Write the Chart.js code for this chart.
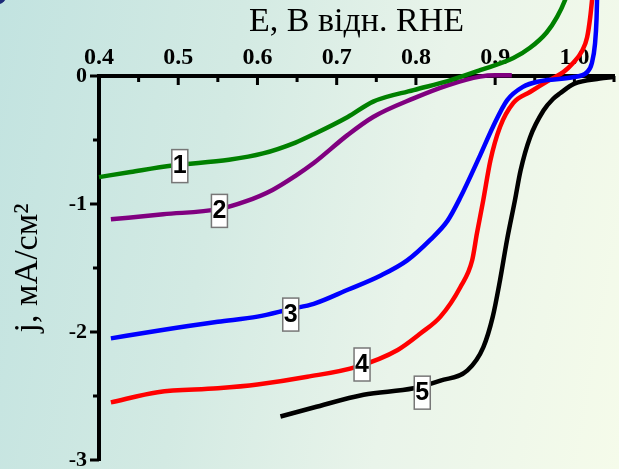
<!DOCTYPE html>
<html>
<head>
<meta charset="utf-8">
<script src="https://cdn.jsdelivr.net/npm/chart.js@4"></script>
<style>
  html, body { margin: 0; padding: 0; }
  #wrap {
    position: relative; width: 619px; height: 469px; overflow: hidden;
    background: linear-gradient(100deg, #c2e3e0 0%, #d3eae3 35%, #e9f4ea 65%, #f5fbea 100%);
  }
  #corner { position: absolute; left: -18px; top: -21px; width: 26px; height: 26px; border-radius: 50%; background: #1c2a78; }
  canvas { position: absolute; left: 0; top: 0; }
</style>
</head>
<body>
<div id="wrap"><div id="corner"></div><canvas id="chart" width="619" height="469"></canvas></div>
<script>
// potential E (V vs RHE) and current density j (mA/cm2) for each curve
const e1 = [0.400, 0.440, 0.493, 0.564, 0.607, 0.648, 0.671, 0.714, 0.746, 0.797, 0.840, 0.881, 0.923, 0.944, 0.965, 0.978, 0.988, 0.996];
const j1 = [-0.79, -0.75, -0.70, -0.655, -0.605, -0.52, -0.455, -0.32, -0.20, -0.11, -0.04, 0.045, 0.14, 0.22, 0.34, 0.46, 0.59, 0.75];

const e2 = [0.415, 0.481, 0.551, 0.585, 0.619, 0.648, 0.671, 0.714, 0.746, 0.797, 0.840, 0.881, 0.900, 0.921];
const j2 = [-1.12, -1.08, -1.04, -0.98, -0.89, -0.78, -0.68, -0.46, -0.32, -0.175, -0.073, -0.005, 0.005, 0.005];

const e3 = [0.415, 0.474, 0.550, 0.600, 0.642, 0.671, 0.714, 0.755, 0.789, 0.818, 0.840, 0.856, 0.881, 0.897, 0.915, 0.935, 0.957, 0.998, 1.016, 1.022, 1.026, 1.028, 1.029];
const j3 = [-2.05, -1.99, -1.92, -1.88, -1.82, -1.78, -1.67, -1.56, -1.44, -1.28, -1.13, -0.95, -0.62, -0.40, -0.19, -0.085, -0.04, -0.01, 0.03, 0.10, 0.25, 0.45, 0.70];

const e4 = [0.415, 0.474, 0.550, 0.600, 0.663, 0.726, 0.777, 0.806, 0.831, 0.856, 0.871, 0.877, 0.885, 0.894, 0.906, 0.923, 0.944, 0.969, 0.986, 0.998, 1.010, 1.016, 1.020, 1.024];
const j4 = [-2.55, -2.47, -2.44, -2.41, -2.35, -2.27, -2.14, -2.01, -1.88, -1.65, -1.44, -1.23, -0.97, -0.66, -0.40, -0.21, -0.125, -0.03, 0.03, 0.10, 0.20, 0.30, 0.46, 0.70];

const e5 = [0.629, 0.671, 0.734, 0.797, 0.831, 0.865, 0.885, 0.897, 0.906, 0.915, 0.925, 0.932, 0.944, 0.961, 0.973, 0.982, 1.000, 1.032, 1.049];
const j5 = [-2.66, -2.59, -2.49, -2.44, -2.38, -2.30, -2.12, -1.88, -1.60, -1.28, -0.97, -0.74, -0.48, -0.27, -0.18, -0.135, -0.06, -0.02, -0.008];

const colors = ['#008000', '#800080', '#0000ff', '#ff0000', '#000000'];

// axis ticks
const xTickLabels = [0.4, 0.5, 0.6, 0.7, 0.8, 0.9, 1.0];
const xMinorTicks = [0.45, 0.55, 0.65, 0.75, 0.85, 0.95, 1.05];
const yTickLabels = [0, -1, -2, -3];
const yMinorTicks = [-0.5, -1.5, -2.5];

// numbered tags on the curves
const tagText = ['1', '2', '3', '4', '5'];
const tagE = [0.502, 0.552, 0.642, 0.732, 0.808];
const tagJ = [-0.70, -1.05, -1.86, -2.25, -2.47];

const curves = [[e1, j1], [e2, j2], [e3, j3], [e4, j4], [e5, j5]];

const tickMarks = {
  id: 'tickMarks',
  beforeDatasetsDraw(chart) {
    const { ctx, chartArea: a } = chart;
    const x = chart.scales.x, y = chart.scales.y;
    ctx.save();
    ctx.strokeStyle = '#000';
    ctx.lineWidth = 3;
    ctx.beginPath();
    xTickLabels.forEach(v => { const p = x.getPixelForValue(v); ctx.moveTo(p, a.top); ctx.lineTo(p, a.top + 9); });
    xMinorTicks.forEach(v => { const p = x.getPixelForValue(v); ctx.moveTo(p, a.top); ctx.lineTo(p, a.top + 6); });
    yTickLabels.forEach(v => { const p = y.getPixelForValue(v); ctx.moveTo(a.left, p); ctx.lineTo(a.left - 9, p); });
    yMinorTicks.forEach(v => { const p = y.getPixelForValue(v); ctx.moveTo(a.left, p); ctx.lineTo(a.left - 6, p); });
    ctx.stroke();
    ctx.restore();
  }
};

const curveTags = {
  id: 'curveTags',
  afterDatasetsDraw(chart) {
    const { ctx } = chart;
    const x = chart.scales.x, y = chart.scales.y;
    ctx.save();
    ctx.font = 'bold 25px "Liberation Sans", Arial, sans-serif';
    ctx.textAlign = 'center';
    ctx.textBaseline = 'middle';
    tagText.forEach((t, i) => {
      const cx = x.getPixelForValue(tagE[i]);
      const cy = y.getPixelForValue(tagJ[i]);
      ctx.fillStyle = '#fff';
      ctx.fillRect(cx - 8, cy - 16, 16, 33);
      ctx.strokeStyle = '#777';
      ctx.lineWidth = 1.5;
      ctx.strokeRect(cx - 8, cy - 16, 16, 33);
      ctx.fillStyle = '#000';
      ctx.fillText(t, cx, cy + 1);
    });
    ctx.restore();
  }
};

const serif = '"Liberation Serif", "Times New Roman", serif';

new Chart(document.getElementById('chart'), {
  type: 'line',
  data: {
    datasets: curves.map((c, i) => ({
      data: c[0].map((e, k) => ({ x: e, y: c[1][k] })),
      borderColor: colors[i],
      borderWidth: 4.5,
      pointRadius: 0,
      cubicInterpolationMode: 'monotone',
      clip: false
    }))
  },
  options: {
    responsive: false,
    animation: false,
    layout: { padding: { top: 0, left: 0, right: 5, bottom: 9 } },
    plugins: { legend: { display: false }, tooltip: { enabled: false } },
    scales: {
      x: {
        type: 'linear',
        position: 'top',
        min: 0.4,
        max: 1.05,
        afterBuildTicks: s => { s.ticks = xTickLabels.map(v => ({ value: v })); },
        afterFit: s => { s.height = 76; s.paddingLeft = 0; s.paddingRight = 0; },
        grid: { display: false, drawTicks: false },
        border: { display: true, color: '#000', width: 4 },
        ticks: {
          color: '#000', padding: 4, autoSkip: false, maxRotation: 0,
          font: { family: serif, size: 24, weight: 'bold' },
          callback: v => v.toFixed(1)
        },
        title: {
          display: true, text: 'E, В відн. RHE', color: '#000',
          font: { family: serif, size: 34 }, padding: { top: 2, bottom: 0 }
        }
      },
      y: {
        type: 'linear',
        min: -3,
        max: 0,
        afterBuildTicks: s => { s.ticks = yTickLabels.map(v => ({ value: v })); },
        afterFit: s => { s.width = 99; s.paddingTop = 0; s.paddingBottom = 0; },
        grid: { display: false, drawTicks: false },
        border: { display: true, color: '#000', width: 4 },
        ticks: {
          color: '#000', padding: 12,
          font: { family: serif, size: 22, weight: 'bold' },
          callback: v => String(v)
        },
        title: {
          display: true, text: 'j, мА/см²', color: '#000',
          font: { family: serif, size: 34 }, padding: { top: 8, bottom: 0 }
        }
      }
    }
  },
  plugins: [tickMarks, curveTags]
});
</script>
</body>
</html>
